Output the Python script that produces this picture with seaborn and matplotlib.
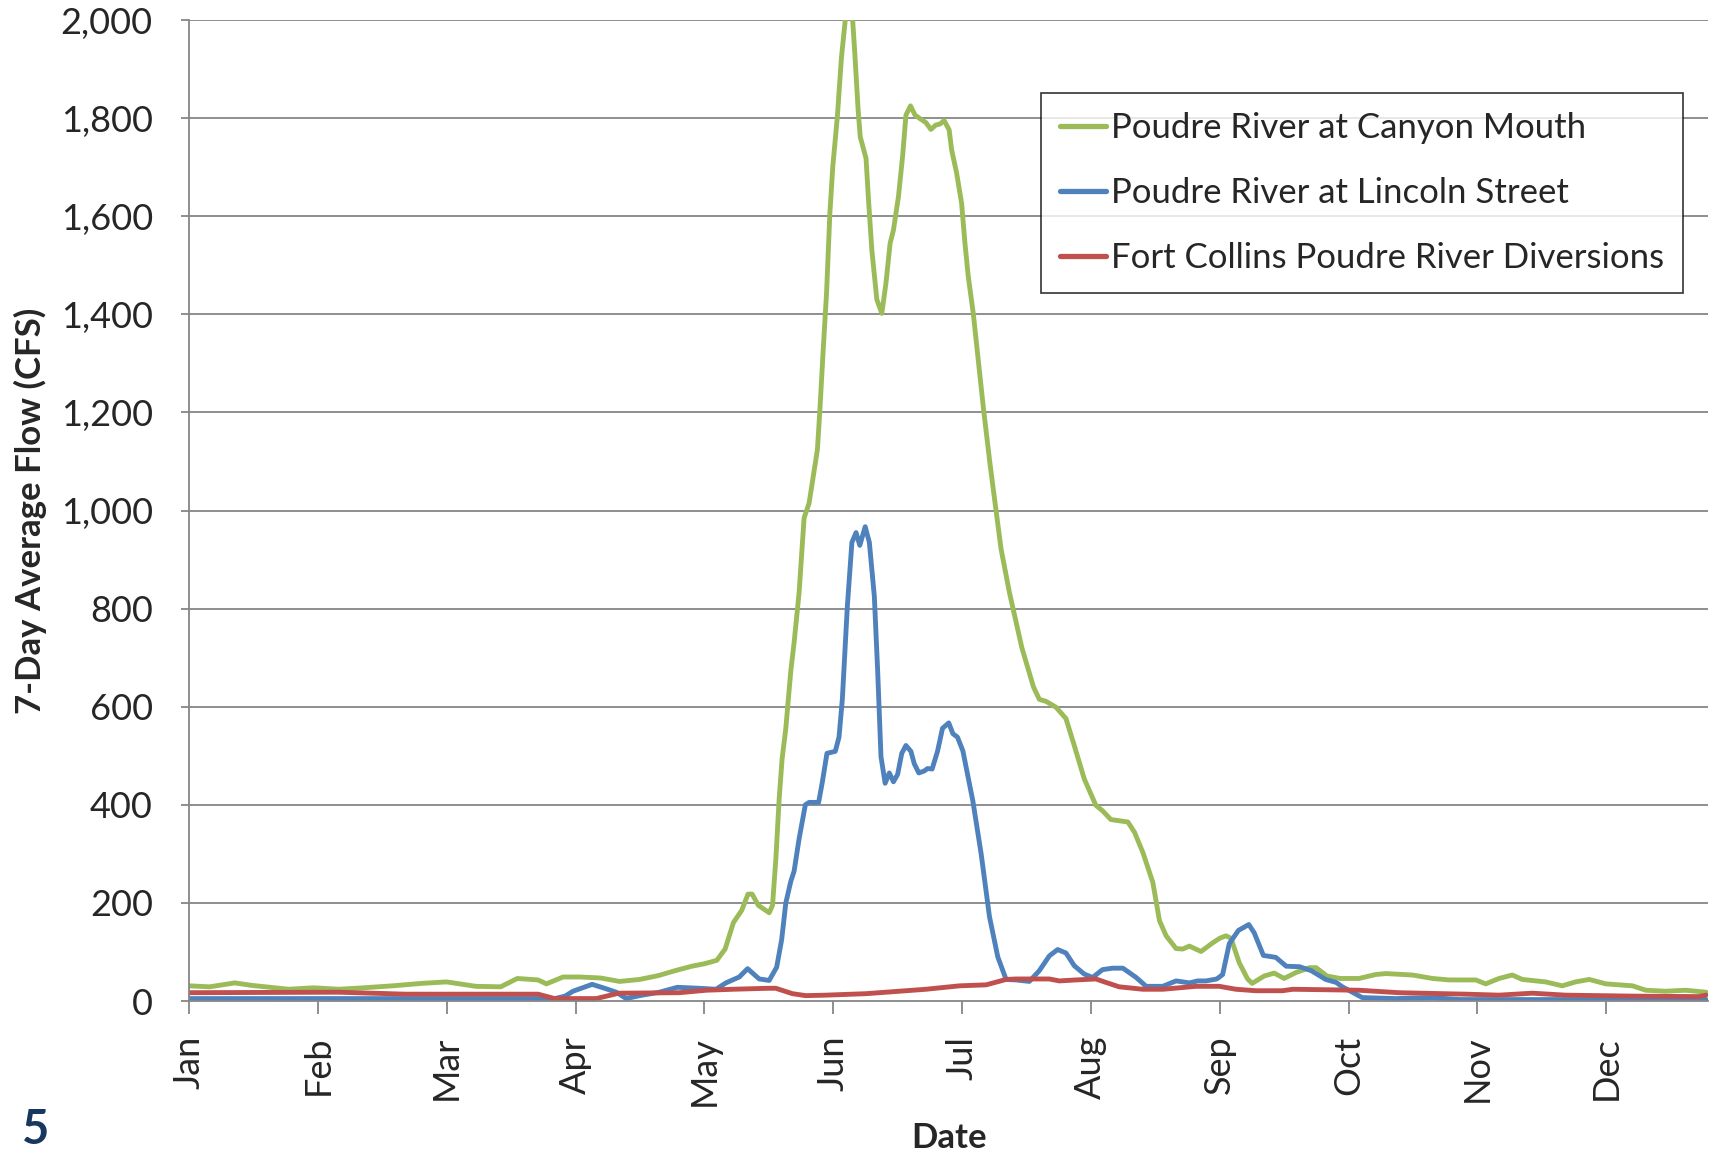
import numpy as np
import pandas as pd
import matplotlib
matplotlib.use('Agg')
import matplotlib.pyplot as plt
import seaborn as sns

# ── 1. Data (day of year -> 7-day average flow, cfs) ──
canyon_days = [0, 5, 11, 15, 24, 30, 36, 42, 49, 56, 62, 69, 75, 79, 84, 86, 90, 94, 99,
               103.6, 108.4, 113, 117, 121, 124, 127, 129, 131, 133, 134.5, 135.5, 137,
               139.6, 140.4, 141.2, 142, 142.7, 143.6, 144.8, 145.6, 146.8, 148, 149.2,
               150.4, 151.2, 151.8, 152.6, 153.4, 154.2, 154.9, 156, 157, 159, 160.2, 161,
               161.5, 162.9, 163.5, 164.3, 165.5, 166.7, 167.7, 168.7, 169.5, 170.7, 171.7,
               172.5, 173.6, 174.7, 175.7, 177.3, 178.5, 179.7, 180.7, 181.7, 182.9, 183.5,
               184.7, 185.9, 186.7, 187.5, 188.7, 189.9, 191.1, 192.6, 193.4, 195.4, 197.4,
               200.4, 203.2, 204.6, 206.2, 208.6, 211, 213, 215.4, 218.2, 219.8, 221.8,
               225.9, 227.5, 229.5, 231.9, 233.5, 235.1, 237.5, 239.1, 240.7, 243.5, 246.2,
               248, 249.5, 250.7, 252.7, 254.7, 255.8, 258.7, 261.1, 263.5, 266.3, 269.6,
               271.2, 273.8, 277, 281.5, 285.5, 288, 294.4, 299.2, 303.2, 309.6, 312, 315.2,
               318.4, 320.8, 326.4, 330.4, 333.6, 336.9, 340.9, 344.1, 347.3, 350.5, 355.3,
               360.1, 365]
canyon_flow = [31, 29, 37, 32, 24, 27, 24, 27, 31, 36, 39, 30, 29, 46, 43, 35, 49, 49, 47,
               40, 44, 52, 62, 71, 76, 83, 106, 160, 185, 218, 218, 195,
               180, 195, 289, 412, 493, 556, 673, 731, 833, 985, 1015,
               1080, 1124, 1205, 1328, 1443, 1606, 1701, 1803, 1925, 2090, 1932, 1817,
               1762, 1718, 1633, 1531, 1430, 1402, 1464, 1545, 1572, 1640, 1722,
               1806, 1825, 1806, 1800, 1791, 1777, 1786, 1788, 1795, 1776, 1735,
               1688, 1626, 1545, 1477, 1402, 1307, 1212, 1104, 1051, 921, 833,
               720, 640, 615, 611, 599, 576, 521, 453, 399, 388, 370,
               365, 344, 303, 242, 164, 133, 107, 106, 112, 101, 118,
               128, 133, 128, 78, 45, 36, 51, 57, 46, 58, 68,
               68, 51, 46, 46, 54, 56, 53, 46, 43, 43, 35, 46,
               53, 44, 39, 31, 39, 44, 35, 33, 31, 22, 20,
               22, 18]

lincoln_days = [0, 80, 88, 90.5, 92.4, 97, 100, 102.8, 105.2, 108.4, 113.2, 117.5, 122.8,
                126.8, 129.2, 132.4, 134.4, 137.2, 139.6, 141.4, 142.6, 143.6, 144.8, 145.6,
                146.8, 148.3, 149.2, 151.5, 152.4, 153.5, 155.5, 156.4, 157.2, 158.4, 159.5,
                160.5, 161.4, 162.7, 163.7, 164.9, 165.7, 166.5, 167.5, 168.5, 169.5, 170.5,
                171.5, 172.5, 173.7, 174.5, 175.6, 176.9, 177.7, 178.8, 180.1, 181.3, 182.8,
                183.8, 184.9, 186.2, 188.6, 190.6, 192.6, 194.6, 196.6, 199, 202.2, 204.6,
                207, 209, 211, 213, 215.4, 217.4, 219.8, 222.2, 224.7, 227.9, 230.3, 234.3,
                237.5, 240.7, 242.7, 244.7, 247.3, 248.7, 250.3, 252.5, 255, 256.3, 258.5,
                261.5, 264, 267.2, 270, 273.5, 276, 277.5, 282.3, 290.3, 299.2, 305.6, 365]
lincoln_flow = [5, 5, 5, 10, 20, 34, 26, 18, 5, 11, 18, 28, 26,
                24, 37, 49, 66, 45, 42, 69, 125, 200, 244, 265,
                331, 400, 405, 405, 447, 505, 509, 538, 615, 804, 935,
                955, 929, 967, 935, 825, 673, 498, 444, 465, 447, 462,
                505, 521, 509, 484, 465, 469, 474, 473, 509, 556, 567,
                545, 538, 510, 408, 300, 172, 90, 44, 43, 40, 62,
                92, 105, 98, 72, 55, 48, 64, 67, 67, 48, 30, 30,
                41, 37, 41, 41, 45, 54, 117, 144, 156, 139, 93,
                89, 71, 70, 62, 44, 38, 29, 7, 5, 7, 3, 3]

divert_days = [0, 36, 52, 84, 88, 98, 103.4, 118, 124.4, 130.8, 135, 139.4, 141.2, 145.2,
               148.4, 153.2, 162.9, 170.9, 177.3, 185.4, 191.8, 196.6, 199, 207, 209.4,
               213.4, 218.2, 220.6, 223.8, 229.5, 234.3, 242.3, 247.9, 251.9, 256.7, 263.1,
               265.6, 281.5, 291.1, 307.1, 315.2, 323.2, 331.2, 347.3, 363.3, 365]
divert_flow = [17, 18, 14, 14, 5, 5, 16, 17, 22, 24, 25, 26, 26, 15,
               11, 12, 15, 20, 24, 31, 33, 44, 45, 45, 41,
               43, 45, 38, 29, 24, 24, 30, 30, 24, 21, 21,
               24, 22, 17, 14, 12, 16, 12, 10, 9, 12]

series_names = ['Poudre River at Canyon Mouth',
                'Poudre River at Lincoln Street',
                'Fort Collins Poudre River Diversions']
series_colors = ['#9BBB59', '#4F81BD', '#C0504D']

month_ticks = [0, 31, 62, 93, 124, 155, 186, 217, 248, 279, 310, 341]
month_labels = ['Jan', 'Feb', 'Mar', 'Apr', 'May', 'Jun',
                'Jul', 'Aug', 'Sep', 'Oct', 'Nov', 'Dec']

# ── 2. Long-form table for seaborn ───────────────────────
df = pd.concat([
    pd.DataFrame({'day': canyon_days, 'flow': canyon_flow, 'series': series_names[0]}),
    pd.DataFrame({'day': lincoln_days, 'flow': lincoln_flow, 'series': series_names[1]}),
    pd.DataFrame({'day': divert_days, 'flow': divert_flow, 'series': series_names[2]}),
], ignore_index=True)

# ── 3. Plot ──────────────────────────────────────────────
sns.set_style('white')
plt.rcParams['font.family'] = ['Lato', 'DejaVu Sans']

fig = plt.figure(figsize=(17.21, 11.57), dpi=100)
ax = fig.add_axes([0.1098, 0.1348, 0.8827, 0.8479])

grid_color = '#868686'
for v in range(200, 2001, 200):
    ax.axhline(v, color=grid_color, lw=1.3, zorder=0)

sns.lineplot(data=df, x='day', y='flow', hue='series', hue_order=series_names,
             palette=series_colors, estimator=None, sort=True, linewidth=3.5, ax=ax)

ax.set_xlim(0, 365.5)
ax.set_ylim(0, 2000)
ax.set_yticks(range(0, 2001, 200))
ax.set_yticklabels([f'{v:,}' for v in range(0, 2001, 200)])
ax.set_xticks(month_ticks)
ax.set_xticklabels(month_labels, rotation=90, va='top', ha='center')

for side in ['top', 'right']:
    ax.spines[side].set_visible(False)
for side in ['left', 'bottom']:
    ax.spines[side].set_color(grid_color)
    ax.spines[side].set_linewidth(1.3)

ax.tick_params(axis='y', direction='out', length=6, width=1.3, color=grid_color,
               left=True, labelsize=26, pad=20)
ax.tick_params(axis='x', direction='out', length=9, width=1.3, color=grid_color,
               bottom=True, labelsize=26, pad=16)

ax.set_xlabel('')
ax.set_ylabel('7-Day Average Flow (CFS)', fontsize=25, fontweight='bold', labelpad=10)
fig.text(0.5515, 0.003, 'Date', fontsize=25, fontweight='bold', ha='center', va='bottom')
fig.text(0.021, 0.004, '5', fontsize=34, fontweight='bold', color='#17375E',
         ha='center', va='bottom')

handles, labels = ax.get_legend_handles_labels()
leg = ax.legend(handles, labels, loc='upper right', bbox_to_anchor=(0.9835, 0.9255),
                fontsize=25, frameon=True, fancybox=False, edgecolor='black',
                handlelength=1.3, handletextpad=0.15, labelspacing=0.95,
                borderpad=0.55, borderaxespad=0)
leg.get_frame().set_linewidth(1.2)
for line in leg.get_lines():
    line.set_linewidth(3.8)

fig.savefig('out.png', dpi=100, facecolor='white')
plt.close(fig)
